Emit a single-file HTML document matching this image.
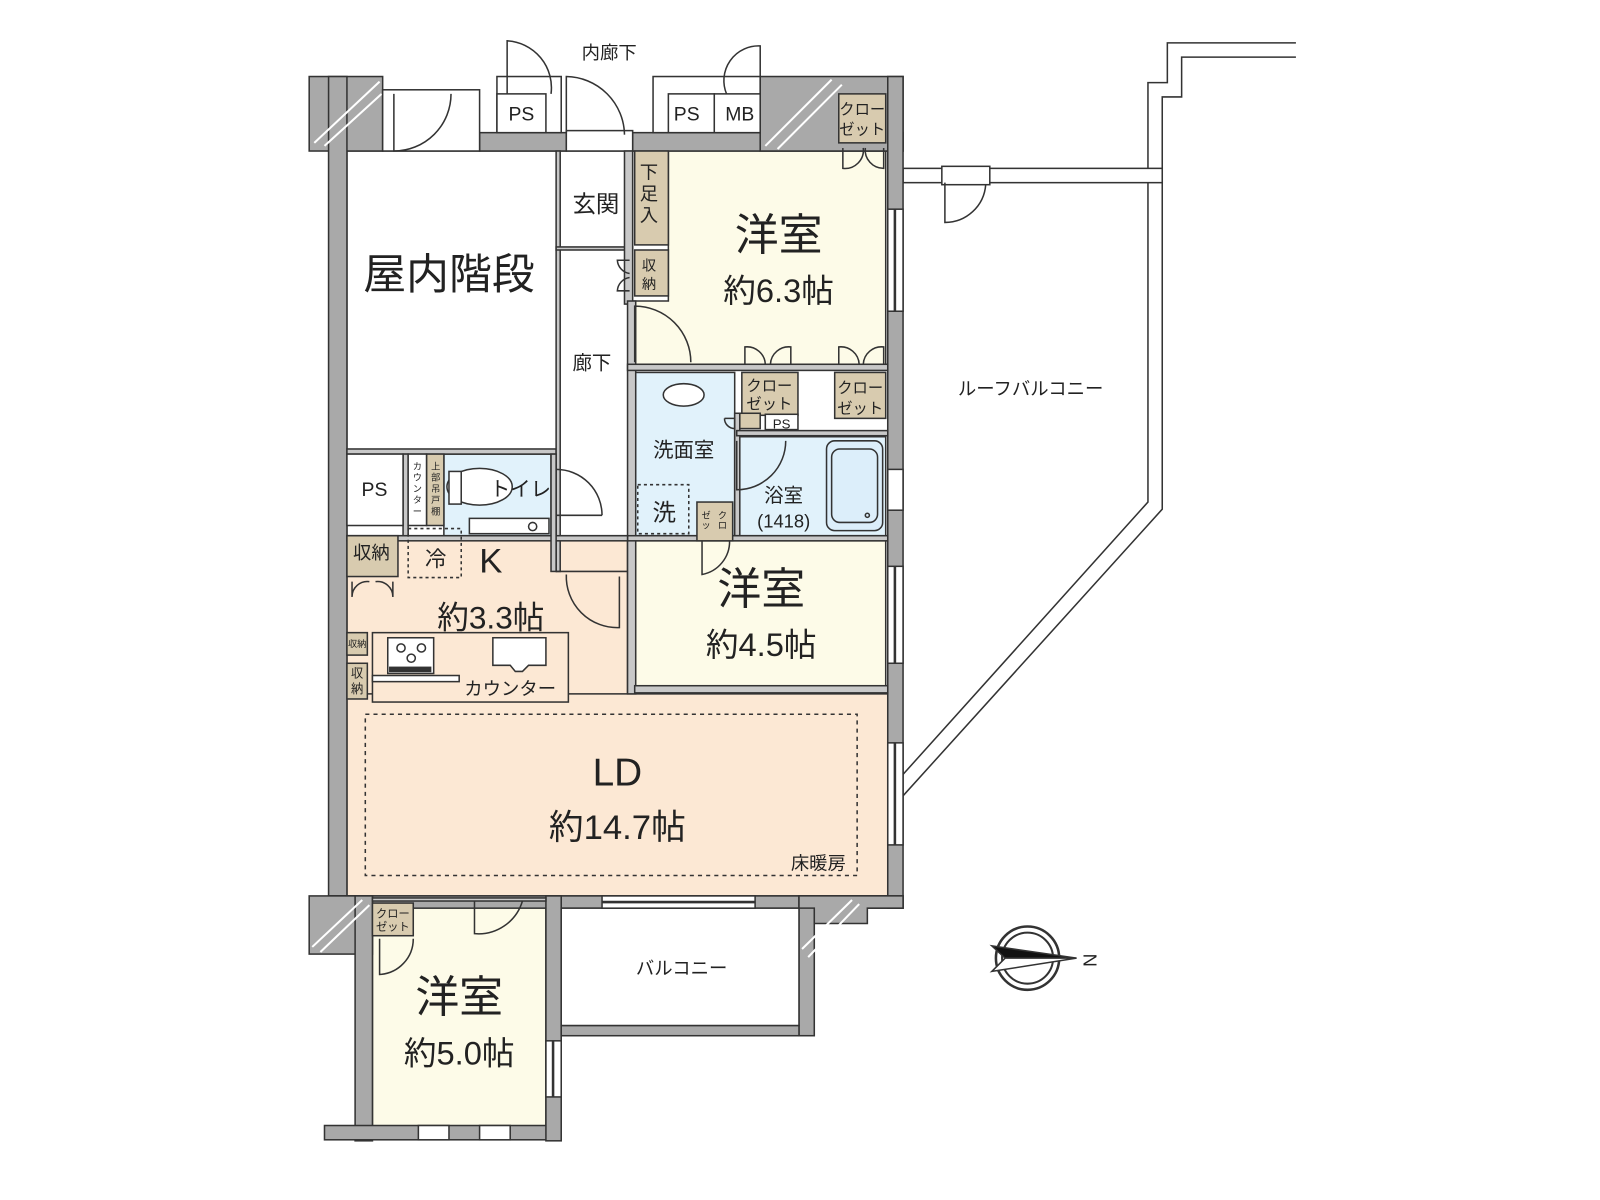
<!DOCTYPE html>
<html><head><meta charset="utf-8"><style>
html,body{margin:0;padding:0;background:#fff}
svg{display:block}
text{font-family:"Liberation Sans","Noto Sans CJK JP",sans-serif;fill:#222}
</style></head><body>
<svg width="1600" height="1200" viewBox="0 0 1568 1176" xmlns="http://www.w3.org/2000/svg">
<g stroke="#333" stroke-width="1.5">
<!-- roof balcony -->
<polyline points="1270,42 1144,42 1144,81 1125,81 1125,492 884,760" fill="none"/>
<polyline points="1270,56 1158,56 1158,95 1139,95 1139,499 884,781" fill="none"/>
<rect x="885" y="165" width="254" height="14" fill="#fff"/>
<rect x="923" y="163" width="47" height="18" fill="#fff"/>
<path d="M926,179 V218 A40,40 0 0 0 966,181" fill="none"/>

<!-- main floor fills -->
<rect x="340" y="148" width="530" height="730" fill="#fff"/>
<rect x="340" y="525" width="275" height="160" fill="#fce8d4"/>
<rect x="340" y="680" width="530" height="198" fill="#fce8d4"/>
<polygon points="655,148 868,148 868,357 620,357 620,295 655,295" fill="#fdfbe8"/>
<rect x="622" y="530" width="246" height="145" fill="#fdfbe8"/>
<rect x="620" y="365" width="100" height="160" fill="#e1f2fb"/>
<rect x="722" y="428" width="146" height="97" fill="#e1f2fb"/>
<rect x="435" y="445" width="105" height="80" fill="#e1f2fb"/>
<rect x="365" y="880" width="170" height="225" fill="#fdfbe8"/>

<!-- outer walls -->
<rect x="303" y="75" width="72" height="73" fill="#a9a9a9"/>
<rect x="322" y="75" width="18" height="803" fill="#a9a9a9"/>
<rect x="470" y="130" width="85" height="18" fill="#a9a9a9"/>
<rect x="620" y="130" width="265" height="18" fill="#a9a9a9"/>
<rect x="745" y="75" width="140" height="73" fill="#a9a9a9"/>
<rect x="870" y="75" width="15" height="815" fill="#a9a9a9"/>
<rect x="322" y="878" width="563" height="12" fill="#a9a9a9"/>
<rect x="303" y="878" width="62" height="57" fill="#a9a9a9"/>
<rect x="348" y="878" width="17" height="240" fill="#a9a9a9"/>
<rect x="318" y="1103" width="230" height="14" fill="#a9a9a9"/>
<rect x="535" y="878" width="15" height="240" fill="#a9a9a9"/>
<rect x="783" y="878" width="15" height="137" fill="#a9a9a9"/>
<polygon points="783,878 885,878 885,890 850,890 850,905 798,905 798,890 783,890" fill="#a9a9a9"/>
<rect x="550" y="1005" width="233" height="10" fill="#a9a9a9"/>
<rect x="550" y="890" width="233" height="115" fill="#fff"/>
<g stroke="#fff" stroke-width="2">
<line x1="308" y1="140" x2="372" y2="80"/><line x1="318" y1="143" x2="374" y2="92"/>
<line x1="750" y1="143" x2="815" y2="78"/><line x1="762" y1="146" x2="825" y2="83"/>
<line x1="306" y1="928" x2="355" y2="882"/><line x1="314" y1="933" x2="362" y2="887"/>
<line x1="786" y1="930" x2="835" y2="882"/><line x1="792" y1="938" x2="842" y2="886"/>
</g>
<g fill="#fff">
<rect x="870" y="205" width="15" height="100"/>
<rect x="870" y="460" width="15" height="40"/>
<rect x="870" y="555" width="15" height="95"/>
<rect x="870" y="728" width="15" height="100"/>
<rect x="590" y="878" width="150" height="12"/>
<rect x="535" y="1020" width="15" height="55"/>
<rect x="410" y="1103" width="30" height="14"/>
<rect x="470" y="1103" width="30" height="14"/>
<rect x="375" y="88" width="95" height="60"/>
<rect x="555" y="128" width="65" height="20"/>
</g>
<g stroke-width="2.5"><line x1="877" y1="205" x2="877" y2="305"/><line x1="877" y1="555" x2="877" y2="650"/><line x1="877" y1="728" x2="877" y2="828"/><line x1="590" y1="884" x2="740" y2="884"/><line x1="542" y1="1020" x2="542" y2="1075"/></g>

<!-- top boxes -->
<rect x="487" y="75" width="63" height="55" fill="#fff"/>
<rect x="487" y="92" width="48" height="38" fill="#fff"/>
<rect x="640" y="75" width="105" height="55" fill="#fff"/>
<rect x="655" y="92" width="45" height="38" fill="#fff"/>
<rect x="700" y="92" width="45" height="38" fill="#fff"/>
<path d="M497,92 V40 A46,46 0 0 1 540,92" fill="none"/>
<path d="M745,92 V45 A34,34 0 0 0 712,92" fill="none"/>
<path d="M555,130 V75 A58,58 0 0 1 612,132" fill="none"/>
<path d="M386,92 V148 A56,56 0 0 0 442,92" fill="none"/>

<!-- interior partitions -->
<g fill="#c8c8c8">
<rect x="340" y="440" width="205" height="5"/>
<rect x="545" y="148" width="4" height="412"/>
<rect x="545" y="242" width="75" height="3"/>
<rect x="612" y="148" width="8" height="150"/>
<rect x="615" y="295" width="8" height="385"/>
<rect x="615" y="357" width="255" height="6"/>
<rect x="720" y="405" width="5" height="120"/>
<rect x="722" y="422" width="148" height="5"/>
<rect x="615" y="525" width="255" height="5"/>
<rect x="622" y="672" width="248" height="7"/>
<rect x="340" y="525" width="275" height="5"/>
<rect x="540" y="445" width="5" height="115"/>
<rect x="395" y="445" width="5" height="80"/>
<rect x="365" y="880" width="170" height="3"/>
</g>
<line x1="545" y1="560" x2="615" y2="560"/>
<g fill="#d8cbaf">
<rect x="622" y="148" width="33" height="92"/>
<rect x="622" y="245" width="33" height="45"/>
<rect x="822" y="92" width="46" height="48"/>
<rect x="727" y="365" width="55" height="42"/>
<rect x="818" y="365" width="50" height="45"/>
<rect x="418" y="445" width="17" height="70"/>
<rect x="683" y="492" width="35" height="38"/>
<rect x="340" y="525" width="50" height="40"/>
<rect x="340" y="620" width="20" height="22"/>
<rect x="340" y="650" width="20" height="35"/>
<rect x="365" y="885" width="40" height="32"/>
<rect x="725" y="405" width="20" height="15"/>
</g>
<rect x="400" y="445" width="18" height="70" fill="#fff"/>
<rect x="340" y="445" width="55" height="70" fill="#fff"/>
<rect x="750" y="406" width="32" height="15" fill="#fff"/>
<rect x="810" y="432" width="55" height="88" rx="8" fill="#dceefa"/>
<rect x="815" y="440" width="45" height="72" rx="8" fill="none"/>
<circle cx="850" cy="505" r="2" fill="none"/>
<ellipse cx="670" cy="387" rx="20" ry="11" fill="#fff"/>
<rect x="625" y="475" width="50" height="48" fill="none" stroke-dasharray="3,3"/>
<rect x="400" y="518" width="52" height="48" fill="none" stroke-dasharray="3,3"/>
<rect x="358" y="700" width="482" height="158" fill="none" stroke-dasharray="4,4"/>
<ellipse cx="470" cy="477" rx="32" ry="18" fill="#fff"/>
<rect x="440" y="462" width="12" height="32" fill="#fff"/>
<rect x="460" y="508" width="78" height="15" fill="#fff"/>
<circle cx="522" cy="516" r="4" fill="none"/>
<rect x="365" y="620" width="192" height="68" fill="#fce8d4"/>
<rect x="365" y="662" width="85" height="6" fill="#fff"/>
<rect x="380" y="625" width="45" height="35" fill="#fff"/>
<circle cx="393" cy="635" r="4" fill="none"/><circle cx="413" cy="635" r="4" fill="none"/><circle cx="403" cy="645" r="4" fill="none"/>
<rect x="382" y="654" width="40" height="4" fill="#333"/>
<path d="M483,625 H535 V652 H518 L512,658 H505 L500,652 H483 Z" fill="#fff"/>
<g fill="none">
<path d="M622,355 V300 A55,55 0 0 1 677,355"/>
<path d="M545,460 A45,45 0 0 1 590,505 M545,505 H590"/>
<path d="M607,565 V615 A50,50 0 0 1 555,563"/>
<path d="M722,432 V480 A48,48 0 0 0 770,432"/>
<path d="M688,530 V563 A33,33 0 0 0 715,530"/>
<path d="M465,883 V915 A45,45 0 0 0 512,883"/>
<path d="M372,920 V955 A35,35 0 0 0 405,920"/>
<path d="M345,570 V585 A15,15 0 0 1 362,570 M385,570 V585 A15,15 0 0 0 368,570"/>
<path d="M730,357 V340 A18,18 0 0 1 750,357 M775,357 V340 A18,18 0 0 0 755,357"/>
<path d="M822,357 V340 A18,18 0 0 1 842,357 M866,357 V340 A18,18 0 0 0 846,357"/>
<path d="M826,145 V165 A18,18 0 0 0 846,145 M866,145 V165 A18,18 0 0 1 848,145"/>
<path d="M617,255 H605 A14,14 0 0 0 617,268 M617,285 H605 A14,14 0 0 1 617,272"/>
<path d="M710,410 H720 V420 A10,10 0 0 1 710,410"/>
</g>
<circle cx="1007" cy="939" r="31" fill="#fff" stroke-width="2.5"/>
<circle cx="1007" cy="939" r="25" fill="none" stroke-width="2"/>
<polygon points="972,927 1055,939 985,939" fill="#111"/>
<polygon points="972,952 1055,939 985,939" fill="#fff"/>
</g>

<g text-anchor="middle">
<text x="597" y="58" font-size="18">内廊下</text>
<text x="511" y="118" font-size="19">PS</text>
<text x="673" y="118" font-size="19">PS</text>
<text x="725" y="118" font-size="19">MB</text>
<text x="440" y="283" font-size="42">屋内階段</text>
<text x="584" y="208" font-size="23">玄関</text>
<text x="580" y="362" font-size="19">廊下</text>
<text x="763" y="245" font-size="43">洋室</text>
<text x="763" y="296" font-size="32">約6.3帖</text>
<text x="670" y="448" font-size="20">洗面室</text>
<text x="651" y="510" font-size="23">洗</text>
<text x="768" y="492" font-size="19">浴室</text>
<text x="768" y="517" font-size="18">(1418)</text>
<text x="766" y="420" font-size="13">PS</text>
<text x="367" y="486" font-size="19">PS</text>
<text x="510" y="486" font-size="20">トイレ</text>
<text x="427" y="555" font-size="21">冷</text>
<text x="481" y="561" font-size="34">K</text>
<text x="481" y="616" font-size="31">約3.3帖</text>
<text x="500" y="681" font-size="18">カウンター</text>
<text x="364" y="548" font-size="18">収納</text>
<text x="746" y="592" font-size="43">洋室</text>
<text x="746" y="643" font-size="32">約4.5帖</text>
<text x="605" y="770" font-size="38">LD</text>
<text x="605" y="822" font-size="34">約14.7帖</text>
<text x="802" y="852" font-size="18">床暖房</text>
<text x="668" y="955" font-size="18">バルコニー</text>
<text x="450" y="992" font-size="43">洋室</text>
<text x="450" y="1043" font-size="32">約5.0帖</text>
<text x="1010" y="387" font-size="18">ルーフバルコニー</text>
<text x="1068" y="947" font-size="18" transform="rotate(90 1068 941)">N</text>
<text x="845" y="112" font-size="15">クロー</text><text x="845" y="132" font-size="15">ゼット</text>
<text x="754" y="383" font-size="15">クロー</text><text x="754" y="401" font-size="15">ゼット</text>
<text x="843" y="385" font-size="15">クロー</text><text x="843" y="405" font-size="15">ゼット</text>
<text x="385" y="899" font-size="11">クロー</text><text x="385" y="912" font-size="11">ゼット</text>
<text x="636" y="175" font-size="18">下</text><text x="636" y="196" font-size="18">足</text><text x="636" y="217" font-size="18">入</text>
<text x="636" y="265" font-size="14">収</text><text x="636" y="283" font-size="14">納</text>
<text x="350" y="634" font-size="9">収納</text>
<text x="350" y="664" font-size="12">収</text><text x="350" y="679" font-size="12">納</text>
<text x="409" y="460" font-size="9">カ</text><text x="409" y="471" font-size="9">ウ</text><text x="409" y="482" font-size="9">ン</text><text x="409" y="493" font-size="9">タ</text><text x="409" y="504" font-size="9">ー</text>
<text x="427" y="460" font-size="9">上</text><text x="427" y="471" font-size="9">部</text><text x="427" y="482" font-size="9">吊</text><text x="427" y="493" font-size="9">戸</text><text x="427" y="504" font-size="9">棚</text>
<text x="692" y="508" font-size="9">ゼ</text><text x="692" y="518" font-size="9">ッ</text>
<text x="708" y="508" font-size="9">ク</text><text x="708" y="518" font-size="9">ロ</text>
</g>
</svg>
</body></html>
